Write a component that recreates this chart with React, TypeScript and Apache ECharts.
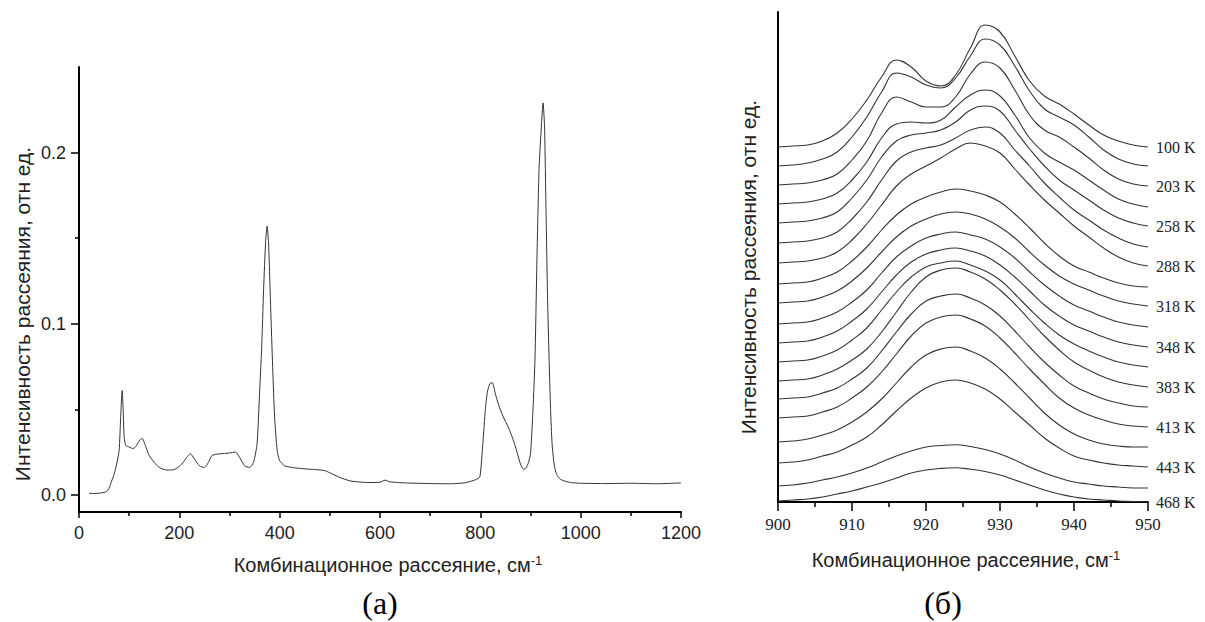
import React, { useEffect, useRef } from 'react';
import * as echarts from 'echarts';

// (а) Raman spectrum: [shift, intensity]
const spectrum: [number, number][] = [
  [20, 0.001], [30, 0.0008], [40, 0.001], [50, 0.0015], [55, 0.002], [60, 0.004], [65, 0.008], [70, 0.012],
  [75, 0.018], [80, 0.026], [83, 0.045], [86, 0.061], [88, 0.05], [90, 0.034], [93, 0.029], [100, 0.028],
  [108, 0.027], [115, 0.029], [121, 0.032], [126, 0.033], [132, 0.029], [140, 0.023], [150, 0.019], [160, 0.016],
  [175, 0.0145], [190, 0.0148], [205, 0.018], [215, 0.022], [222, 0.024], [230, 0.021], [240, 0.017], [250, 0.016],
  [258, 0.019], [265, 0.023], [275, 0.0238], [290, 0.0242], [300, 0.0245], [312, 0.025], [320, 0.022], [330, 0.017],
  [340, 0.016], [348, 0.019], [355, 0.03], [360, 0.06], [364, 0.085], [368, 0.12], [372, 0.148], [375, 0.157],
  [378, 0.146], [382, 0.11], [386, 0.075], [390, 0.045], [395, 0.026], [400, 0.02], [410, 0.017], [430, 0.0158],
  [450, 0.0152], [470, 0.0148], [490, 0.0142], [505, 0.0122], [520, 0.0102], [540, 0.0082], [560, 0.0075], [580, 0.0072],
  [600, 0.0074], [610, 0.0086], [620, 0.0076], [650, 0.007], [700, 0.0066], [740, 0.0065], [770, 0.0071], [790, 0.0088],
  [799, 0.0105], [805, 0.03], [810, 0.05], [814, 0.06], [819, 0.065], [824, 0.0655], [830, 0.059], [836, 0.053],
  [845, 0.046], [855, 0.04], [862, 0.035], [868, 0.03], [874, 0.024], [880, 0.018], [886, 0.015], [891, 0.0155],
  [896, 0.019], [900, 0.024], [905, 0.05], [909, 0.08], [913, 0.14], [917, 0.19], [921, 0.212], [925, 0.229],
  [928, 0.215], [931, 0.165], [934, 0.115], [937, 0.08], [940, 0.05], [943, 0.03], [947, 0.018], [952, 0.012],
  [960, 0.009], [980, 0.0072], [1000, 0.0068], [1050, 0.0066], [1100, 0.0068], [1150, 0.0065], [1200, 0.007],
];

// (б) temperature series, vertically shifted intensities (arb. units) at these shifts (cm-1)
const shifts = [900, 902, 904, 906, 908, 910, 912, 914, 916, 918, 920, 922, 924, 926, 928, 930, 932, 934, 936, 938, 940, 942, 944, 946, 948, 950];
const tempLabels = ['100 K', '', '203 K', '', '258 K', '', '288 K', '', '318 K', '', '348 K', '', '383 K', '', '413 K', '', '443 K', '', '468 K'];
const c1 = [355, 356, 357, 361, 369, 383, 402, 425, 442, 435, 421, 416, 427, 454, 477, 470, 446, 421, 406, 398, 388, 377, 367, 361, 357, 355];
const c2 = [336, 337, 339, 343, 350, 365, 385, 410, 429, 425, 417, 414, 424, 446, 463, 457, 436, 411, 393, 385, 377, 365, 352, 343, 338, 336];
const c3 = [317, 318, 319, 322, 328, 342, 361, 389, 405, 400, 395, 395, 405, 428, 440, 434, 412, 387, 372, 365, 355, 344, 332, 323, 318, 316];
const c4 = [298, 299, 300, 303, 309, 322, 340, 364, 378, 380, 379, 382, 395, 407, 412, 406, 387, 364, 349, 340, 332, 322, 312, 303, 298, 295];
const c5 = [279, 280, 281, 284, 290, 304, 322, 345, 361, 367, 369, 372, 380, 392, 396, 391, 372, 353, 336, 322, 312, 302, 292, 284, 279, 276];
const c6 = [259, 260, 261, 264, 270, 283, 300, 322, 341, 350, 354, 357, 364, 372, 375, 369, 352, 336, 319, 305, 292, 282, 272, 264, 258, 255];
const c7 = [239, 240, 241, 244, 250, 262, 278, 297, 316, 328, 336, 344, 353, 359, 356, 349, 333, 317, 302, 289, 276, 265, 254, 245, 239, 236];
const c8 = [218, 219, 220, 224, 230, 241, 255, 272, 287, 298, 305, 310, 313, 311, 307, 300, 288, 274, 259, 246, 236, 230, 224, 219, 216, 215];
const c9 = [199, 200, 201, 205, 211, 221, 234, 250, 265, 276, 283, 288, 290, 288, 283, 275, 264, 250, 237, 226, 218, 212, 206, 201, 198, 196];
const c10 = [178, 179, 180, 184, 190, 200, 212, 229, 245, 256, 264, 268, 270, 267, 263, 255, 244, 230, 217, 206, 197, 191, 185, 180, 177, 175];
const c11 = [159, 160, 161, 165, 171, 181, 193, 210, 227, 240, 248, 252, 254, 251, 246, 237, 225, 211, 197, 186, 177, 171, 165, 160, 157, 155];
const c12 = [140, 141, 142, 146, 152, 162, 174, 192, 210, 225, 235, 239, 241, 237, 231, 222, 208, 193, 179, 167, 158, 151, 145, 140, 137, 135];
const c13 = [121, 122, 123, 127, 133, 142, 153, 170, 190, 210, 225, 232, 234, 230, 223, 212, 198, 182, 166, 152, 140, 132, 125, 120, 117, 115];
const c14 = [103, 104, 105, 109, 114, 123, 134, 151, 170, 188, 201, 206, 208, 204, 197, 186, 171, 155, 140, 127, 116, 109, 103, 99, 96, 95];
const c15 = [84, 85, 86, 90, 95, 104, 115, 130, 148, 166, 179, 185, 187, 183, 176, 164, 149, 133, 118, 104, 94, 87, 82, 78, 76, 75];
const c16 = [60, 61, 63, 67, 72, 80, 90, 103, 119, 135, 147, 153, 155, 151, 144, 133, 119, 104, 89, 77, 68, 62, 58, 56, 55, 55];
const c17 = [39, 40, 42, 46, 50, 57, 65, 77, 91, 104, 114, 120, 122, 119, 113, 103, 90, 77, 64, 54, 46, 42, 39, 37, 36, 35];
const c18 = [16, 17, 19, 22, 25, 29, 34, 40, 46, 51, 55, 56.5, 57.3, 55.5, 52.5, 48, 42, 35, 29, 24, 20, 18, 16, 15, 14, 14];
const c19 = [1, 2, 3, 5, 8, 11, 15, 19, 24, 29, 32, 33.6, 34.2, 32.8, 30.5, 27, 22, 17, 12, 8, 5, 3, 2, 1, 0.5, 0];
const curves = [c1, c2, c3, c4, c5, c6, c7, c8, c9, c10, c11, c12, c13, c14, c15, c16, c17, c18, c19];

const leftMajorY = [0, 0.1, 0.2];
const leftMinorY = [0.05, 0.15];

const SANS = '"Liberation Sans", Arial, sans-serif';
const SERIF = '"Liberation Serif", "Times New Roman", serif';
const TXT = '#222';

export default function App() {
  const ref = useRef<HTMLDivElement>(null);
  useEffect(() => {
    const chart = echarts.init(ref.current!, null, { renderer: 'svg' });
    const axisLine = { show: true, onZero: false, lineStyle: { color: '#000', width: 2 } };
    const option: any = {
      animation: false,
      backgroundColor: '#fff',
      grid: [
        { left: 79, top: 67, width: 602, height: 445 },
        { left: 778, top: 12, width: 370, height: 490 },
      ],
      xAxis: [
        {
          type: 'value', gridIndex: 0, min: 0, max: 1200, interval: 200,
          axisLine,
          axisTick: { show: true, length: 6, lineStyle: { color: '#000', width: 1.5 } },
          minorTick: { show: true, splitNumber: 2, length: 4, lineStyle: { color: '#000', width: 1.5 } },
          axisLabel: { fontSize: 18, fontFamily: SANS, color: TXT, margin: 12, formatter: (v: number) => String(v) },
          splitLine: { show: false },
        },
        {
          type: 'value', gridIndex: 1, min: 900, max: 950, interval: 10,
          axisLine,
          axisTick: { show: true, length: 9, lineStyle: { color: '#000', width: 1.5 } },
          minorTick: { show: true, splitNumber: 2, length: 5, lineStyle: { color: '#000', width: 1.5 } },
          axisLabel: { fontSize: 17, fontFamily: SERIF, color: TXT, margin: 14, formatter: (v: number) => String(v) },
          splitLine: { show: false },
        },
      ],
      yAxis: [
        {
          type: 'value', gridIndex: 0, min: -0.01, max: 0.25,
          axisLine,
          axisTick: { show: true, length: 8, customValues: leftMajorY, lineStyle: { color: '#000', width: 1.5 } },
          axisLabel: { customValues: leftMajorY, formatter: (v: number) => v.toFixed(1), fontSize: 18, fontFamily: SANS, color: TXT, margin: 13 },
          splitLine: { show: false },
        },
        {
          type: 'value', gridIndex: 0, position: 'left', min: -0.01, max: 0.25,
          axisLine: { show: false, onZero: false },
          axisTick: { show: true, length: 4, customValues: leftMinorY, lineStyle: { color: '#000', width: 1.5 } },
          axisLabel: { show: false },
          splitLine: { show: false },
        },
        {
          type: 'value', gridIndex: 1, min: 0, max: 490,
          axisLine,
          axisTick: { show: false },
          axisLabel: { show: false },
          splitLine: { show: false },
        },
      ],
      series: [
        {
          type: 'line', xAxisIndex: 0, yAxisIndex: 0, data: spectrum, showSymbol: false, smooth: 0.2,
          lineStyle: { color: '#333', width: 1 },
        },
        ...curves.map((c, i) => ({
          type: 'line', xAxisIndex: 1, yAxisIndex: 2,
          data: shifts.map((x, j) => [x, c[j]]),
          showSymbol: false, smooth: 0.45,
          lineStyle: { color: '#333', width: 1.1 },
          endLabel: tempLabels[i]
            ? { show: true, formatter: tempLabels[i], fontFamily: SERIF, fontSize: 16, color: TXT, distance: 8 }
            : { show: false },
        })),
      ],
      graphic: [
        {
          type: 'text', x: 22, y: 314, rotation: Math.PI / 2,
          style: { text: 'Интенсивность рассеяния, отн ед.', fontSize: 21, fontFamily: SANS, fill: TXT, align: 'center', verticalAlign: 'middle' },
        },
        {
          type: 'text', x: 748, y: 267, rotation: Math.PI / 2,
          style: { text: 'Интенсивность рассеяния, отн ед.', fontSize: 21, fontFamily: SANS, fill: TXT, align: 'center', verticalAlign: 'middle' },
        },
        {
          type: 'text', x: 388, y: 565,
          style: {
            text: '{m|Комбинационное рассеяние, см}{s|-1}', align: 'center', verticalAlign: 'middle',
            rich: {
              m: { fontSize: 20, fontFamily: SANS, fill: TXT, lineHeight: 22 },
              s: { fontSize: 13, fontFamily: SANS, fill: TXT, verticalAlign: 'top', lineHeight: 22 },
            },
          },
        },
        {
          type: 'text', x: 966, y: 560,
          style: {
            text: '{m|Комбинационное рассеяние, см}{s|-1}', align: 'center', verticalAlign: 'middle',
            rich: {
              m: { fontSize: 20, fontFamily: SANS, fill: TXT, lineHeight: 22 },
              s: { fontSize: 13, fontFamily: SANS, fill: TXT, verticalAlign: 'top', lineHeight: 22 },
            },
          },
        },
        {
          type: 'text', x: 380, y: 603,
          style: { text: '(а)', fontSize: 32, fontFamily: SERIF, fill: '#000', align: 'center', verticalAlign: 'middle' },
        },
        {
          type: 'text', x: 943, y: 603,
          style: { text: '(б)', fontSize: 32, fontFamily: SERIF, fill: '#000', align: 'center', verticalAlign: 'middle' },
        },
      ],
    };
    chart.setOption(option);
    return () => chart.dispose();
  }, []);
  return (
    <div
      ref={ref}
      style={{ position: 'absolute', left: 0, top: 0, width: 1205, height: 622, background: '#fff' }}
    />
  );
}
